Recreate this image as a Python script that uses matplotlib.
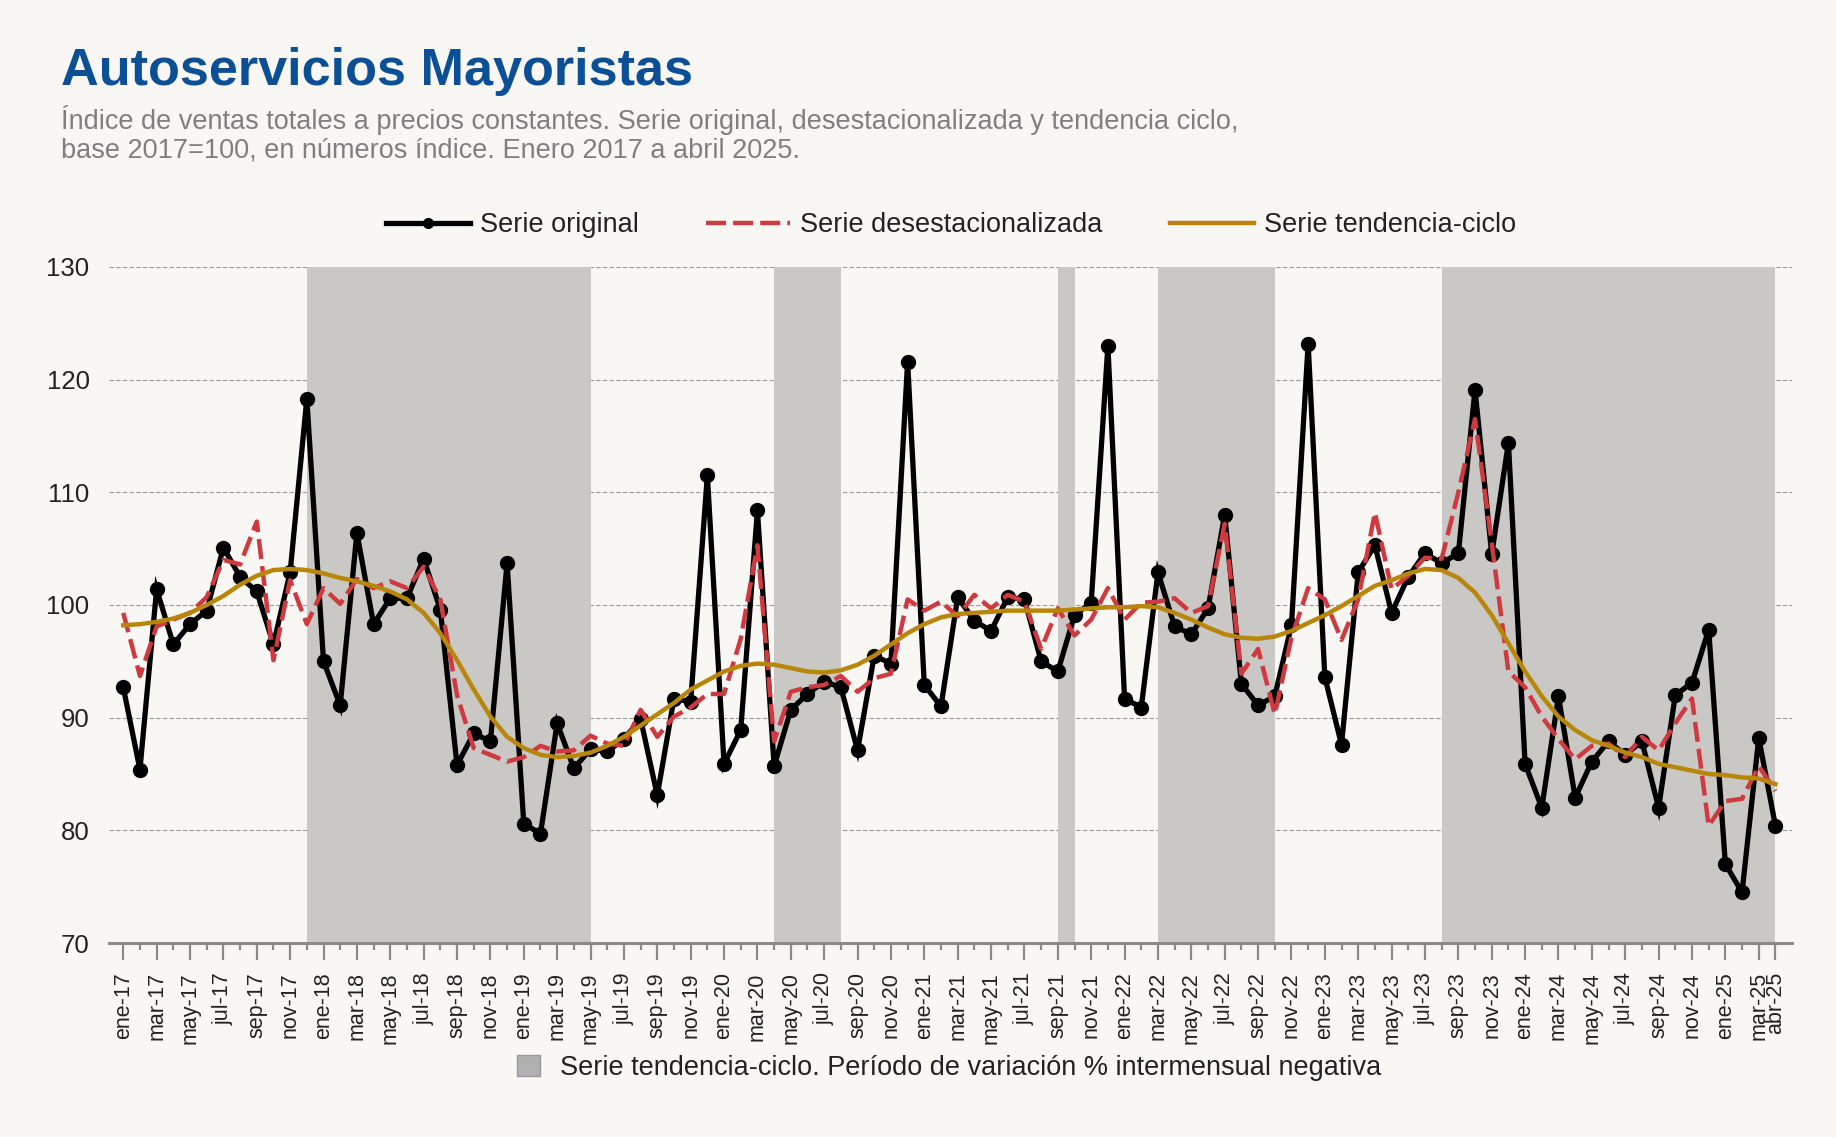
import matplotlib
matplotlib.use("Agg")
import matplotlib.pyplot as plt
from matplotlib.lines import Line2D
from matplotlib.patches import Patch

plt.rcParams["font.family"] = ["Liberation Sans", "DejaVu Sans"]

# monthly index, Jan 2017 .. Apr 2025
month_names = ["ene", "feb", "mar", "abr", "may", "jun",
               "jul", "ago", "sep", "oct", "nov", "dic"]
months = [f"{m}-{y:02d}" for y in range(17, 26) for m in month_names][:100]

serie_original = [
    92.7, 85.4, 101.4, 96.5, 98.3, 99.5, 105.1, 102.5, 101.2, 96.5, 102.9, 118.3,
    95.0, 91.1, 106.4, 98.3, 100.6, 100.6, 104.1, 99.6, 85.8, 88.6, 87.9, 103.7,
    80.6, 79.7, 89.5, 85.5, 87.2, 87.0, 88.1, 89.9, 83.1, 91.7, 91.4, 111.5,
    85.9, 88.9, 108.4, 85.7, 90.7, 92.1, 93.2, 92.7, 87.1, 95.5, 94.8, 121.6,
    92.9, 91.0, 100.7, 98.6, 97.7, 100.7, 100.5, 95.0, 94.1, 99.1, 100.2, 123.0,
    91.7, 90.9, 102.9, 98.1, 97.4, 99.7, 108.0, 93.0, 91.1, 91.9, 98.2, 123.2,
    93.6, 87.6, 102.9, 105.3, 99.3, 102.5, 104.6, 103.7, 104.6, 119.1, 104.5, 114.4,
    85.9, 82.0, 91.9, 82.9, 86.1, 87.9, 86.7, 87.9, 82.0, 92.0, 93.1, 97.8,
    77.0, 74.5, 88.2, 80.4,
]

serie_desest = [
    99.3, 93.7, 98.1, 98.7, 99.3, 100.7, 104.0, 103.6, 107.4, 95.1, 102.2, 98.3,
    101.5, 100.1, 102.3, 101.5, 102.1, 101.5, 103.4, 100.5, 92.0, 87.3, 86.7, 86.1,
    86.5, 87.5, 87.0, 87.1, 88.4, 87.7, 87.5, 90.7, 88.3, 90.1, 90.9, 92.1,
    92.1, 97.0, 105.3, 87.9, 92.3, 92.7, 92.9, 93.7, 92.3, 93.5, 93.9, 100.5,
    99.5, 100.3, 99.0, 100.9, 99.7, 100.9, 100.3, 96.1, 99.7, 97.3, 98.7, 101.5,
    98.7, 100.2, 100.3, 100.6, 99.3, 99.9, 107.2, 93.9, 96.1, 90.3, 97.1, 101.5,
    100.5, 96.9, 100.5, 108.2, 101.4, 102.6, 104.2, 104.1, 110.0, 116.5, 105.5, 94.1,
    92.7, 90.1, 88.1, 86.3, 87.5, 87.7, 86.5, 88.3, 87.1, 89.5, 91.7, 80.4,
    82.6, 82.8, 85.7, 83.5,
]

serie_tendencia = [
    98.2, 98.3, 98.5, 98.8, 99.3, 100.0, 100.8, 101.8, 102.6, 103.1, 103.2, 103.1,
    102.8, 102.4, 102.1, 101.7, 101.2, 100.5, 99.3, 97.5, 95.1, 92.5, 90.1, 88.3,
    87.3, 86.7, 86.5, 86.6, 86.9, 87.5, 88.3, 89.3, 90.3, 91.3, 92.5, 93.3,
    94.1, 94.6, 94.8, 94.7, 94.4, 94.1, 94.0, 94.2, 94.7, 95.5, 96.5, 97.5,
    98.3, 98.9, 99.2, 99.3, 99.4, 99.5, 99.5, 99.5, 99.5, 99.6, 99.7, 99.8,
    99.8, 99.9, 99.8, 99.3, 98.7, 98.0, 97.4, 97.1, 97.0, 97.2, 97.7, 98.4,
    99.1, 99.9, 100.8, 101.7, 102.2, 102.8, 103.2, 103.1, 102.4, 101.1, 99.1, 96.6,
    94.1, 91.9, 90.1, 88.9, 88.0, 87.5, 86.9, 86.5, 85.9, 85.6, 85.3, 85.0,
    84.9, 84.7, 84.6, 84.1,
]

# periods of negative month-on-month change of the trend-cycle series
periodos_negativos = [
    ("dic-17", "may-19"),
    ("abr-20", "ago-20"),
    ("sep-21", "oct-21"),
    ("mar-22", "oct-22"),
    ("ago-23", "abr-25"),
]

BG = "#f9f7f3"
SHADE = "#c9c8c5"
RED = "#cf3a40"
GOLD = "#b8860b"
DASHES = (4.5, 1.6)

fig = plt.figure(figsize=(18.36, 11.37), dpi=100, facecolor=BG)
ax = fig.add_axes([0.0594, 0.1706, 0.9167, 0.5946], facecolor=BG)

x = list(range(len(months)))

for start, end in periodos_negativos:
    ax.axvspan(months.index(start), months.index(end), color=SHADE, lw=0, zorder=1)

ax.plot(x, serie_original, color="black", lw=3.8, marker="o", markersize=10,
        zorder=3, solid_joinstyle="miter")
ax.plot(x, serie_desest, color=RED, lw=3.2, dashes=DASHES, zorder=4)
ax.plot(x, serie_tendencia, color=GOLD, lw=3.2, zorder=5)

ax.set_xlim(-0.85, 100.0)
ax.set_ylim(70, 130)
ax.set_yticks(range(70, 131, 10))
ax.yaxis.grid(True, color="#9a9a9a", lw=0.8, ls=(0, (4, 2)))
ax.set_axisbelow(True)
ax.tick_params(axis="y", length=0, pad=14, labelsize=18.5, labelcolor="#222222")

major = list(range(0, len(months), 2)) + [len(months) - 1]
minor = list(range(1, len(months) - 1, 2))
ax.set_xticks(major)
ax.set_xticklabels([months[i] for i in major], rotation=90)
ax.set_xticks(minor, minor=True)
ax.tick_params(axis="x", which="major", length=12, width=1.6, color="#8a8a8a",
               pad=9, labelsize=15.5, labelcolor="#222222")
ax.tick_params(axis="x", which="minor", length=5, width=1.6, color="#8a8a8a")

for side in ["left", "top", "right"]:
    ax.spines[side].set_visible(False)
ax.spines["bottom"].set_color("#8a8a8a")
ax.spines["bottom"].set_linewidth(2.2)
ax.spines["bottom"].set_zorder(6)

fig.text(0.0332, 0.925, "Autoservicios Mayoristas", fontsize=37.6, fontweight="bold",
         color="#0b4f97", va="baseline")
fig.text(0.0332, 0.8865,
         "Índice de ventas totales a precios constantes. Serie original, "
         "desestacionalizada y tendencia ciclo,",
         fontsize=19.5, color="#7f7f7f", va="baseline")
fig.text(0.0332, 0.8615,
         "base 2017=100, en números índice. Enero 2017 a abril 2025.",
         fontsize=19.5, color="#7f7f7f", va="baseline")

handles = [
    Line2D([], [], color="black", lw=3.8, marker="o", markersize=7),
    Line2D([], [], color=RED, lw=3.2, dashes=DASHES),
    Line2D([], [], color=GOLD, lw=3.2),
]
labels = ["Serie original", "Serie desestacionalizada", "Serie tendencia-ciclo"]
fig.legend(handles, labels, loc="center", bbox_to_anchor=(0.518, 0.802), ncol=3,
           frameon=False, fontsize=19.5, handlelength=3.1, handletextpad=0.36,
           columnspacing=2.5, labelcolor="#222222")

fig.legend([Patch(facecolor="#b0b0b0", edgecolor="#9a9a9a")],
           ["Serie tendencia-ciclo. Período de variación % intermensual negativa"],
           loc="center", bbox_to_anchor=(0.517, 0.061), frameon=False, fontsize=19.5,
           handlelength=0.86, handleheight=0.86, handletextpad=0.75,
           labelcolor="#222222")

fig.savefig("out.png", dpi=100, facecolor=BG)
